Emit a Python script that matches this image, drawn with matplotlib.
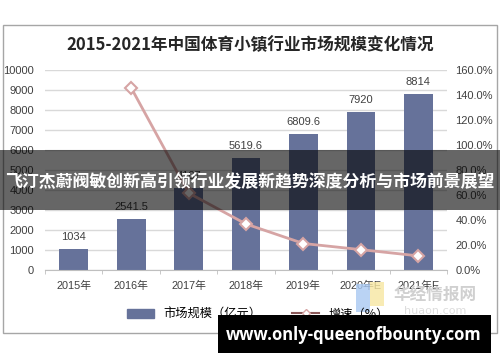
import numpy as np
import matplotlib; matplotlib.use('Agg')
import matplotlib.pyplot as plt
from matplotlib.patches import Rectangle
from matplotlib.lines import Line2D

years = ['2015年', '2016年', '2017年', '2018年', '2019年', '2020年E', '2021年E']
market = [1034, 2541.5, 4107, 5619.6, 6809.6, 7920, 8814]
market_labels = ['1034', '2541.5', '4107', '5619.6', '6809.6', '7920', '8814']
growth_years = years[1:]
growth = [145.8, 61.6, 36.8, 21.2, 16.3, 11.3]

FONT = ['Liberation Sans', 'Noto Sans CJK SC', 'DejaVu Sans']
plt.rcParams['font.family'] = FONT

W, H = 500, 362
fig = plt.figure(figsize=(W / 100, H / 100), dpi=100)

def px(x0, y0, x1, y1):
    # pixel box (top-left origin) -> figure fraction rect
    return [x0 / W, 1 - y1 / H, (x1 - x0) / W, (y1 - y0) / H]

# outer chart frame
fig.patches.append(Rectangle((3 / W, 1 - 333 / H), 494 / W, 308 / H, transform=fig.transFigure,
                             fill=False, ec='#a6a6a6', lw=1))
fig.text(250 / W, 1 - 45 / H, '2015-2021年中国体育小镇行业市场规模变化情况', ha='center', va='center',
         fontsize=12, fontweight='bold', color='#262626', family=['Noto Sans CJK SC', 'DejaVu Sans'])

ax = fig.add_axes(px(45, 70, 447, 270))
x = np.arange(len(years))
ax.bar(x, market, width=0.5, color='#66729a', zorder=2)
for xi, v, s in zip(x, market, market_labels):
    ax.text(xi, v + 350, s, ha='center', va='bottom', fontsize=8, color='#404040')
ax.set_xlim(-0.5, len(years) - 0.5)
ax.set_ylim(0, 10000)
ax.set_yticks(range(0, 10001, 1000))
ax.grid(axis='y', color='#d9d9d9', lw=1, zorder=0)
ax.set_xticks(x)
ax.set_xticklabels(years, fontsize=7.8, color='#404040')
ax.set_xticks(np.arange(-0.5, len(years)), minor=True)
ax.tick_params(axis='x', which='major', length=0, pad=8)
ax.tick_params(axis='x', which='minor', length=3, color='#bfbfbf')
ax.tick_params(axis='y', length=0, labelsize=8, labelcolor='#404040', pad=8)
for s in ['left', 'right', 'top']:
    ax.spines[s].set_visible(False)
ax.spines['bottom'].set_color('#bfbfbf')

ax2 = ax.twinx()
ax2.plot(x[1:], growth, color='#d6a4a4', lw=2, marker='D', ms=6, mfc='white', mec='#d6a4a4', mew=1.5, zorder=3)
ax2.set_ylim(0, 160)
ax2.set_yticks(range(0, 161, 20))
ax2.set_yticklabels([f'{v:.1f}%' for v in range(0, 161, 20)])
ax2.tick_params(axis='y', length=0, labelsize=8, labelcolor='#404040', pad=6)
for s in ax2.spines.values():
    s.set_visible(False)

handles = [Rectangle((0, 0), 1, 1, color='#66729a'),
           Line2D([], [], color='#8b5a5a', lw=1.5, marker='D', ms=4, mfc='white', mec='#d6a4a4')]
fig.legend(handles, ['市场规模（亿元）', '增速（%）'], loc='center', bbox_to_anchor=(258 / W, 1 - 314 / H),
           ncol=2, frameon=False, handlelength=2.2, columnspacing=2.5,
           prop={'family': ['Noto Sans CJK SC'], 'size': 8.8})

# watermark
fig.patches.append(Rectangle((356 / W, 1 - 312 / H), 14 / W, 28 / H, transform=fig.transFigure,
                             color='#a9c9f2', alpha=0.8, lw=0))
fig.patches.append(Rectangle((370 / W, 1 - 306 / H), 14 / W, 24 / H, transform=fig.transFigure,
                             color='#f7e7a1', alpha=0.8, lw=0))
fig.text(435 / W, 1 - 296 / H, '华经情报网', ha='center', va='center', fontsize=12, fontweight='bold',
         color='#d0d0d0', family=['Noto Sans CJK SC'])
fig.text(435 / W, 1 - 311 / H, 'huaon.com', ha='center', va='center', fontsize=8,
         color='#dddddd', family=['DejaVu Sans'])

# overlay banner
fig.patches.append(Rectangle((0, 1 - 210 / H), 1, 60 / H, transform=fig.transFigure,
                             color='black', alpha=0.6, lw=0, zorder=10))
fig.text(250 / W, 1 - 182 / H, '飞汀杰蔚阀敏创新高引领行业发展新趋势深度分析与市场前景展望', ha='center',
         va='center', fontsize=12.2, fontweight='heavy', color='white', zorder=11,
         family=['Noto Sans CJK SC'])

fig.patches.append(Rectangle((218 / W, 1 - 353 / H), 273 / W, 38 / H, transform=fig.transFigure,
                             color='black', lw=0, zorder=10))
fig.text(354 / W, 1 - 335 / H, 'www.only-queenofbounty.com', ha='center', va='center', fontsize=12,
         fontweight='bold', color='white', zorder=11, family=['Open Sans', 'DejaVu Sans'])

fig.savefig('out.png', dpi=100)
